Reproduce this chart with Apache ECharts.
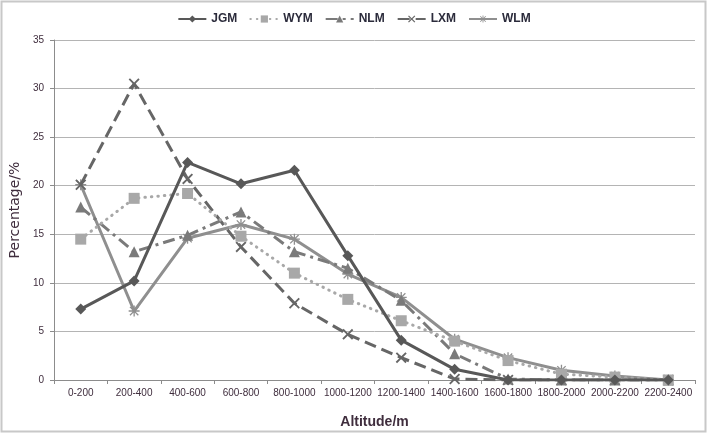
<!DOCTYPE html>
<html>
<head>
<meta charset="utf-8">
<script src="https://cdn.jsdelivr.net/npm/echarts@6/dist/echarts.min.js"></script>
<style>html,body{margin:0;padding:0;background:#fff;}#c{width:708px;height:434px;}</style>
</head>
<body>
<div id="c"></div>
<script>
var categories = ['0-200','200-400','400-600','600-800','800-1000','1000-1200','1200-1400','1400-1600','1600-1800','1800-2000','2000-2200','2200-2400'];
var yTicks = [0, 35, 5];
var JGM = [7.3, 10.2, 22.4, 20.2, 21.6, 12.8, 4.1, 1.1, 0, 0, 0, 0];
var WYM = [14.5, 18.7, 19.2, 14.8, 11.0, 8.3, 6.1, 4.0, 2.0, 0.6, 0.3, 0];
var NLM = [17.8, 13.2, 14.9, 17.3, 13.2, 11.5, 8.2, 2.7, 0.1, 0, 0, 0];
var LXM = [20.1, 30.5, 20.7, 13.7, 7.9, 4.7, 2.3, 0.1, 0, 0, 0, 0];
var WLM = [20.1, 7.1, 14.6, 16.0, 14.5, 10.9, 8.5, 4.2, 2.3, 1.0, 0.4, 0];

var xSym = 'path://M0,1.2L1.2,0L5,3.8L8.8,0L10,1.2L6.2,5L10,8.8L8.8,10L5,6.2L1.2,10L0,8.8L3.8,5Z';
var starSym = 'path://M4.4,0H5.6V10H4.4Z M0,4.4H10V5.6H0Z M0.8,1.6L1.6,0.8L9.2,8.4L8.4,9.2Z M8.4,0.8L9.2,1.6L1.6,9.2L0.8,8.4Z';
var txt = '#3f2d3d';

var chart = echarts.init(document.getElementById('c'));
chart.setOption({
  animation: false,
  backgroundColor: '#fff',
  graphic: [{type:'rect', shape:{x:1.5, y:1.5, width:704, height:430}, style:{fill:'none', stroke:'#c8c8c8', lineWidth:2}, silent:true}],
  legend: {
    top: 8, left: 'center', itemWidth: 28, itemHeight: 9, itemGap: 12,
    textStyle: {fontFamily: 'Liberation Sans', fontWeight: 'bold', fontSize: 12, color: '#2b2b3b'},
    data: ['JGM','WYM','NLM','LXM','WLM']
  },
  grid: {left: 53, right: 13, top: 40, bottom: 53, containLabel: false},
  xAxis: {
    type: 'category', data: categories, boundaryGap: true,
    name: 'Altitude/m', nameLocation: 'middle', nameGap: 35,
    nameTextStyle: {fontFamily: 'Liberation Sans', fontWeight: 'bold', fontSize: 14, color: txt},
    axisLine: {lineStyle: {color: '#8c8c8c', width: 1}},
    axisTick: {show: true, alignWithLabel: false, length: 4, lineStyle: {color: '#8c8c8c'}},
    axisLabel: {fontFamily: 'Liberation Sans', fontSize: 10, color: txt, margin: 8, interval: 0},
    splitLine: {show: false}
  },
  yAxis: {
    type: 'value', min: yTicks[0], max: yTicks[1], interval: yTicks[2],
    name: 'Percentage/%', nameLocation: 'middle', nameGap: 30,
    nameTextStyle: {fontFamily: 'DejaVu Sans', fontSize: 14, color: txt},
    axisLine: {show: true, lineStyle: {color: '#8c8c8c', width: 1}},
    axisTick: {show: true, length: 4, lineStyle: {color: '#8c8c8c'}},
    axisLabel: {fontFamily: 'Liberation Sans', fontSize: 10, color: txt, margin: 10},
    splitLine: {show: true, lineStyle: {color: '#b4b4b4', width: 1}}
  },
  series: [
    {name: 'WLM', type: 'line', data: WLM, symbol: starSym, symbolSize: 11, z: 2,
     lineStyle: {color: '#8f8f8f', width: 3}, itemStyle: {color: '#8f8f8f'}},
    {name: 'LXM', type: 'line', data: LXM, symbol: xSym, symbolSize: 11, z: 3,
     lineStyle: {color: '#666666', width: 3, type: [12, 6]}, itemStyle: {color: '#666666'}},
    {name: 'NLM', type: 'line', data: NLM, symbol: 'triangle', symbolSize: 11, z: 4,
     lineStyle: {color: '#7a7a7a', width: 3, type: [12, 5, 3, 5]}, itemStyle: {color: '#7a7a7a'}},
    {name: 'WYM', type: 'line', data: WYM, symbol: 'rect', symbolSize: 11, z: 5,
     lineStyle: {color: '#a8a8a8', width: 3, type: [0.5, 6], cap: 'round'}, itemStyle: {color: '#a8a8a8'}},
    {name: 'JGM', type: 'line', data: JGM, symbol: 'diamond', symbolSize: 11, z: 6,
     lineStyle: {color: '#585858', width: 3}, itemStyle: {color: '#585858'}}
  ]
});
</script>
</body>
</html>
